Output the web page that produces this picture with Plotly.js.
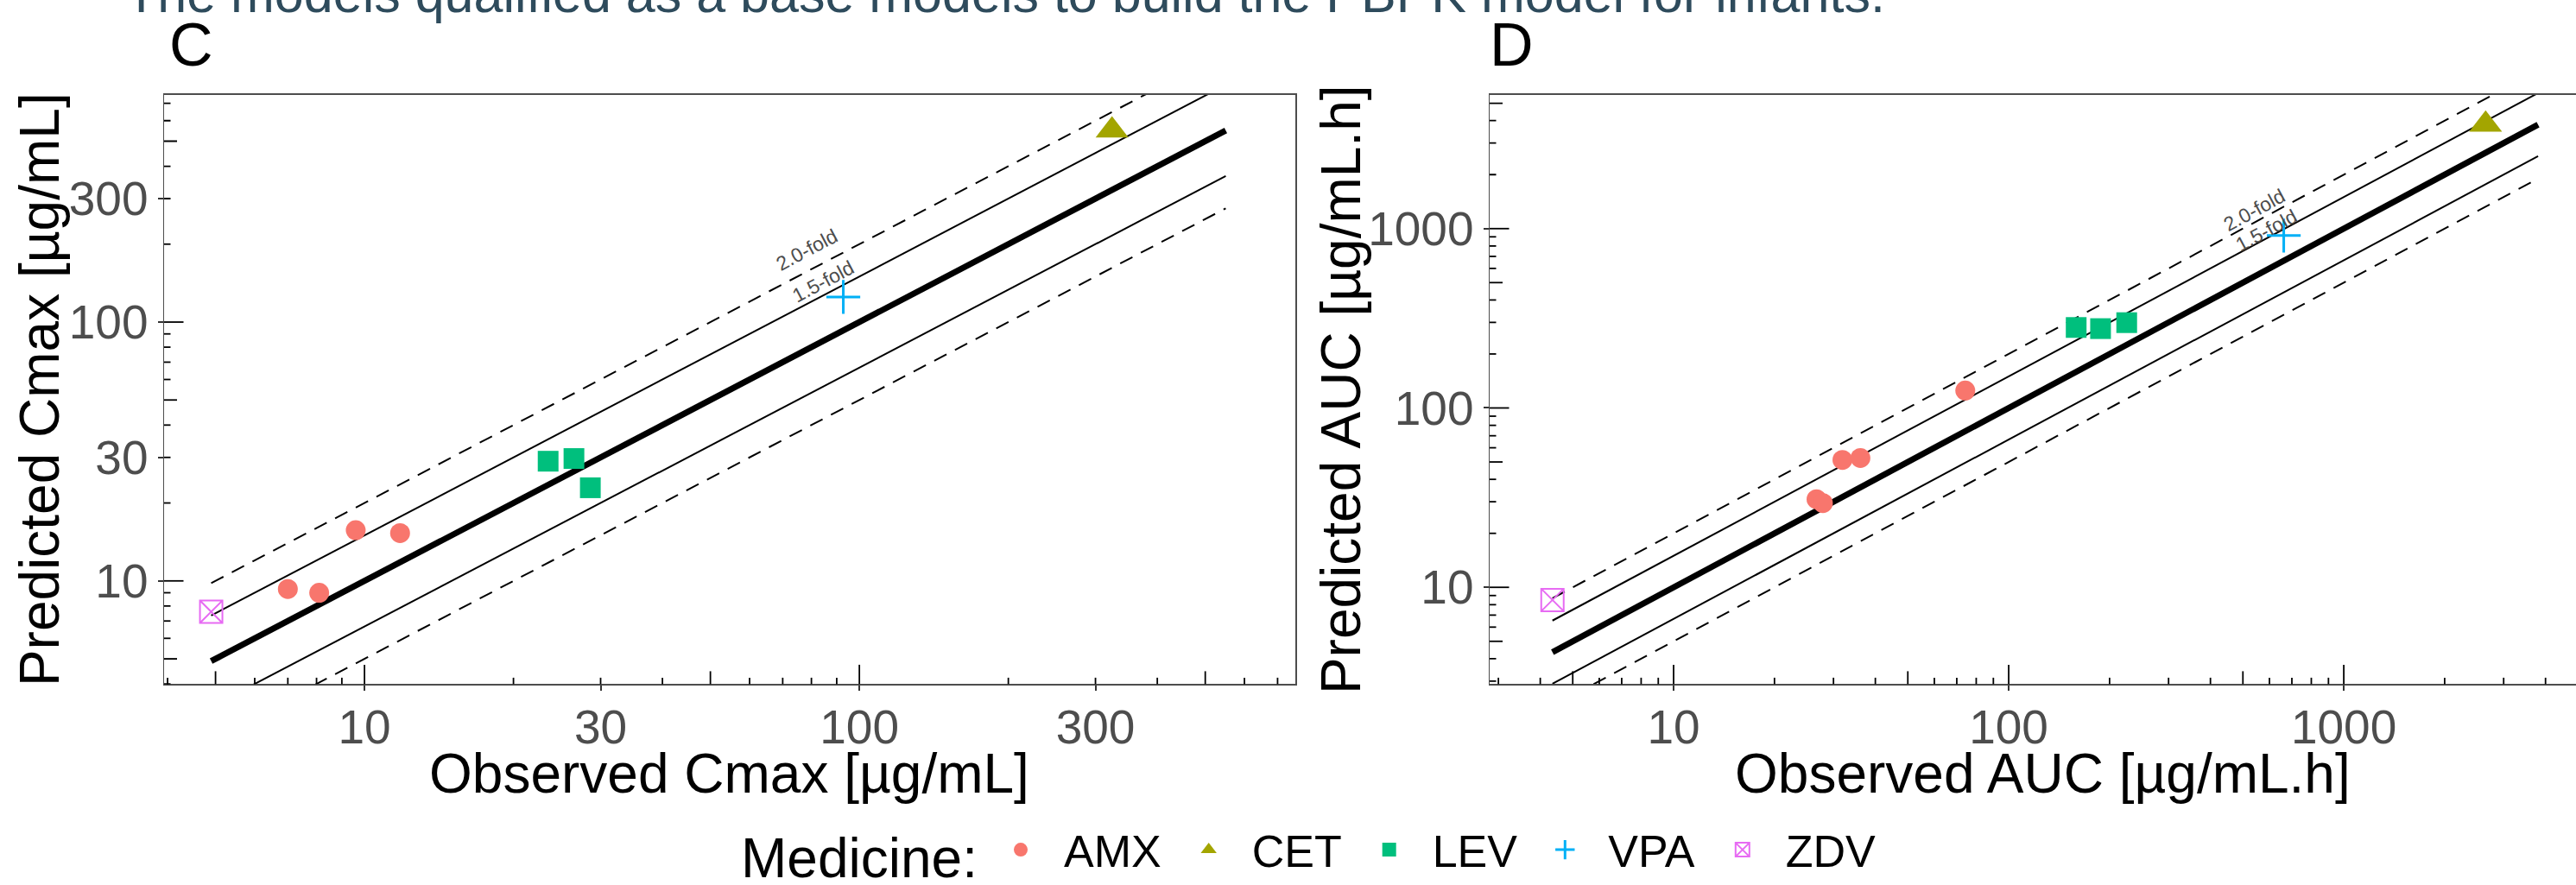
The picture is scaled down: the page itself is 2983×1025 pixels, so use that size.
<!DOCTYPE html>
<html><head><meta charset="utf-8">
<script src="https://cdn.plot.ly/plotly-3.0.1.min.js"></script>
<style>html,body{margin:0;padding:0;background:#fff;} #chart{width:2983px;height:1025px;}</style>
</head><body><div id="chart"></div>
<script>
// ---------- DATA ----------
const medicines = ["AMX", "CET", "LEV", "VPA", "ZDV"];
const medColors = ["#F8766D", "#A3A500", "#00BF7D", "#00B0F6", "#E76BF3"];
const medSymbols = ["circle", "triangle-up", "square", "cross-thin-open", "square-x-open"];

// Panel C: Cmax [µg/mL]
const cmaxObsAMX = [7.0, 8.1, 9.6, 11.8];
const cmaxPredAMX = [9.3, 9.0, 15.7, 15.3];
const cmaxObsCET = [324];
const cmaxPredCET = [550];
const cmaxObsLEV = [23.5, 26.5, 28.6];
const cmaxPredLEV = [29.0, 29.7, 22.9];
const cmaxObsVPA = [92.8];
const cmaxPredVPA = [125];
const cmaxObsZDV = [4.9];
const cmaxPredZDV = [7.6];

// Panel D: AUC [µg/mL.h]
const aucObsAMX = [26.7, 27.9, 31.9, 36.1, 74.2];
const aucPredAMX = [31.0, 29.5, 51.3, 52.6, 125];
const aucObsCET = [2650];
const aucPredCET = [3800];
const aucObsLEV = [159, 188, 225];
const aucPredLEV = [281, 277, 299];
const aucObsVPA = [662];
const aucPredVPA = [915];
const aucObsZDV = [4.35];
const aucPredZDV = [8.5];

const foldValues = [1.5, 2.0];
const foldLabels = ["1.5-fold", "2.0-fold"];
const cmaxTicks = [10, 30, 100, 300];
const aucTicks = [10, 100, 1000];

// ---------- BUILD ----------
const FONT = "Liberation Sans, Arial, sans-serif";
const cmaxObs = [cmaxObsAMX, cmaxObsCET, cmaxObsLEV, cmaxObsVPA, cmaxObsZDV];
const cmaxPred = [cmaxPredAMX, cmaxPredCET, cmaxPredLEV, cmaxPredVPA, cmaxPredZDV];
const aucObs = [aucObsAMX, aucObsCET, aucObsLEV, aucObsVPA, aucObsZDV];
const aucPred = [aucPredAMX, aucPredCET, aucPredLEV, aucPredVPA, aucPredZDV];

const traces = [];
function addPanel(obs, pred, xa, ya, legend) {
  const all = [].concat(...obs, ...pred);
  const lo = Math.min(...all), hi = Math.max(...all);
  traces.push({x: [lo, hi], y: [lo, hi], xaxis: xa, yaxis: ya, mode: "lines",
    line: {color: "black", width: 7}, showlegend: false, hoverinfo: "skip"});
  foldValues.forEach((f) => {
    const dash = f === 2.0 ? "16px,11px" : "solid";
    [f, 1 / f].forEach((k) => {
      traces.push({x: [lo, hi], y: [lo * k, hi * k], xaxis: xa, yaxis: ya, mode: "lines",
        line: {color: "black", width: 2, dash: dash}, showlegend: false, hoverinfo: "skip"});
    });
  });
  const sizes = [23, 33, 24, 28, 26];
  medicines.forEach((m, i) => {
    const open = medSymbols[i].endsWith("open");
    traces.push({x: obs[i], y: pred[i], xaxis: xa, yaxis: ya, mode: "markers", name: m,
      legendgroup: m, showlegend: legend,
      marker: {symbol: medSymbols[i], color: medColors[i], size: sizes[i],
        line: {color: medColors[i], width: open ? (i === 3 ? 3 : 2) : 0}}});
  });
}
addPanel(cmaxObs, cmaxPred, "x", "y", true);
addPanel(aucObs, aucPred, "x2", "y2", false);

const rangeC = {x: [0.595, 2.881], y: [0.601, 2.878]};
const rangeD = {x: [0.451, 3.693], y: [0.46, 3.746]};

const shapes = [];
function logTicks(axLetter, axId, otherId, range) {
  for (let k = Math.floor(range[0]); k <= Math.ceil(range[1]); k++) {
    for (let d = 1; d <= 9; d++) {
      const v = d * Math.pow(10, k);
      const lv = Math.log10(v);
      if (lv < range[0] || lv > range[1]) continue;
      const len = d === 1 ? 22.5 : (d === 5 ? 15 : 7.5);
      if (axLetter === "x") {
        shapes.push({type: "line", xref: axId, yref: otherId + " domain", x0: v, x1: v,
          ysizemode: "pixel", yanchor: 0, y0: 0, y1: len, line: {color: "black", width: 1.8}});
      } else {
        shapes.push({type: "line", yref: axId, xref: otherId + " domain", y0: v, y1: v,
          xsizemode: "pixel", xanchor: 0, x0: 0, x1: len, line: {color: "black", width: 1.8}});
      }
    }
  }
}
logTicks("x", "x", "y", rangeC.x);
logTicks("y", "y", "x", rangeC.y);
logTicks("x", "x2", "y2", rangeD.x);
logTicks("y", "y2", "x2", rangeD.y);

const annotations = [];
function foldLabel(xa, ya, xPos, shifts, angle) {
  foldValues.forEach((f, i) => {
    annotations.push({xref: xa, yref: ya, x: Math.log10(xPos[i]), y: Math.log10(xPos[i] * f),
      text: foldLabels[i], showarrow: false, textangle: angle, xanchor: "center", yanchor: "middle",
      yshift: shifts[i], font: {family: FONT, size: 23, color: "#4d4d4d"}});
  });
}
foldLabel("x", "y", [84.5, 78.5], [16, 25], -27.9);
foldLabel("x2", "y2", [586, 542], [9.5, 14.6], -28.4);

// panel tags and partially visible heading
annotations.push({xref: "paper", yref: "paper", x: 194 / 2983, y: 1 - 53 / 1025, xanchor: "left", yanchor: "middle",
  text: "C", showarrow: false, font: {family: FONT, size: 70, color: "black"}});
annotations.push({xref: "paper", yref: "paper", x: 1723 / 2983, y: 1 - 53 / 1025, xanchor: "left", yanchor: "middle",
  text: "D", showarrow: false, font: {family: FONT, size: 70, color: "black"}});
annotations.push({xref: "paper", yref: "paper", x: 143 / 2983, y: 1, xanchor: "left", yanchor: "middle", yshift: 7,
  text: "The models qualified as a base models to build the PBPK model for infants.", showarrow: false,
  font: {family: FONT, size: 61, color: "#2E4B5C"}});

// axis titles
const yDom = [1 - 801 / 1025, 1 - 111 / 1025];
const yMid = (yDom[0] + yDom[1]) / 2;
const axisTitleFont = {family: FONT, size: 64, color: "black"};
annotations.push({xref: "paper", yref: "paper", x: 46 / 2983, y: yMid, xanchor: "center", yanchor: "middle",
  textangle: -90, text: "Predicted Cmax [µg/mL]", showarrow: false, font: axisTitleFont});
annotations.push({xref: "paper", yref: "paper", x: 1553 / 2983, y: yMid, xanchor: "center", yanchor: "middle",
  textangle: -90, text: "Predicted AUC [µg/mL.h]", showarrow: false, font: axisTitleFont});
annotations.push({xref: "paper", yref: "paper", x: 845 / 2983, y: 1 - 906 / 1025, xanchor: "center", yanchor: "middle",
  text: "Observed Cmax [µg/mL]", showarrow: false, font: axisTitleFont});
annotations.push({xref: "paper", yref: "paper", x: 2365 / 2983, y: 1 - 906 / 1025, xanchor: "center", yanchor: "middle",
  text: "Observed AUC [µg/mL.h]", showarrow: false, font: axisTitleFont});
// legend heading
annotations.push({xref: "paper", yref: "paper", x: 856 / 2983, y: 1 - 1005 / 1025, xanchor: "left", yanchor: "middle",
  text: "Medicine:", showarrow: false, font: {family: FONT, size: 64, color: "black"}});

function axisBase(range, domain, anchor, tickvals, isX) {
  return {type: "log", range: range, domain: domain, anchor: anchor,
    tickmode: "array", tickvals: tickvals, ticktext: tickvals.map(String),
    ticks: "outside", ticklen: 6, tickwidth: 2, tickcolor: "#333333",
    ticklabelstandoff: isX ? -5 : 0,
    tickfont: {family: FONT, size: 55, color: "#4d4d4d"},
    showgrid: false, zeroline: false, showline: true, mirror: true,
    linecolor: "#4d4d4d", linewidth: 1.5};
}
const layout = {
  width: 2983, height: 1025, margin: {l: 0, r: 0, t: 0, b: 0},
  paper_bgcolor: "white", plot_bgcolor: "white", font: {family: FONT},
  xaxis: axisBase(rangeC.x, [190 / 2983, 1500 / 2983], "y", cmaxTicks, true),
  yaxis: axisBase(rangeC.y, yDom, "x", cmaxTicks, false),
  xaxis2: axisBase(rangeD.x, [1725 / 2983, 1], "y2", aucTicks, true),
  yaxis2: axisBase(rangeD.y, yDom, "x2", aucTicks, false),
  showlegend: true,
  legend: {orientation: "h", x: 1132 / 2983, y: 30 / 1025, xanchor: "left", yanchor: "middle",
    font: {family: FONT, size: 52, color: "black"}, itemwidth: 90, bgcolor: "rgba(0,0,0,0)"},
  shapes: shapes, annotations: annotations
};
Plotly.newPlot("chart", traces, layout, {staticPlot: true, displayModeBar: false});
</script></body></html>
